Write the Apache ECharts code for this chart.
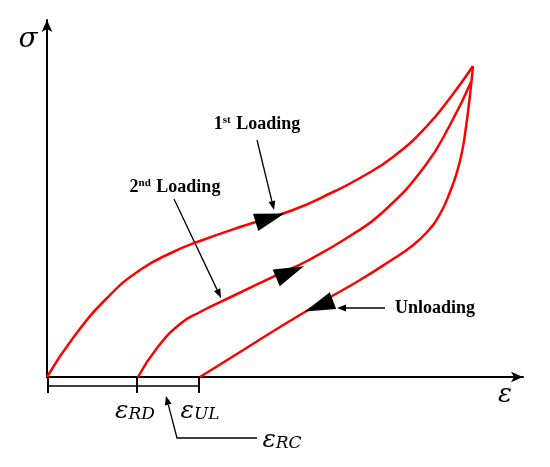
<!DOCTYPE html>
<html>
<head>
<meta charset="utf-8">
<script src="https://cdn.jsdelivr.net/npm/echarts@6/dist/echarts.min.js"></script>
<style>
html, body { margin: 0; padding: 0; background: #fff; }
#main { width: 550px; height: 467px; }
</style>
</head>
<body>
<div id="main"></div>
<script>
// 曲线数据 (应变, 应力) —— 任意单位
var load1X = [0, 26, 60, 93, 126, 153, 193, 246, 286, 313, 346, 380, 406, 426];
var load1Y = [0, 39, 79, 107, 125, 136, 150, 167, 185, 199, 220, 251, 283, 311];

var load2X = [91, 110, 133, 153, 186, 230, 260, 303, 336, 378, 404, 424];
var load2Y = [0, 29, 53, 65, 81, 102, 116, 141, 165, 211, 254, 295];

var unloadX = [153, 193, 233, 273, 313, 343, 365, 381, 393, 403, 410, 415, 419, 423, 426];
var unloadY = [0, 25, 50, 74, 97, 116, 131, 146, 163, 185, 205, 225, 250, 282, 311];

// 曲线上的方向箭头
var arrowX = [223, 243, 272];
var arrowY = [159, 105, 71];
var arrowRot = [-73, -67, 111];

function pairs(xs, ys) {
    var out = [];
    for (var i = 0; i < xs.length; i++) {
        out.push([xs[i], ys[i]]);
    }
    return out;
}

// 注释箭头: 线 + 小三角
function arrowLine(pts, head) {
    var n = pts.length;
    var x1 = pts[n - 2][0], y1 = pts[n - 2][1], x2 = pts[n - 1][0], y2 = pts[n - 1][1];
    var a = Math.atan2(y2 - y1, x2 - x1);
    var L = head || 9, W = 3.5;
    var bx = x2 - L * Math.cos(a), by = y2 - L * Math.sin(a);
    return [
        {
            type: 'polyline',
            shape: { points: pts.slice(0, n - 1).concat([[bx, by]]) },
            style: { stroke: '#000', lineWidth: 1.3, fill: null }
        },
        {
            type: 'polygon',
            shape: { points: [[x2, y2], [bx - W * Math.sin(a), by + W * Math.cos(a)], [bx + W * Math.sin(a), by - W * Math.cos(a)]] },
            style: { fill: '#000' }
        }
    ];
}

var serifBold = 'bold 18px "Liberation Serif", serif';
var mathFont = '"DejaVu Serif", serif';
var supStyle = { fontSize: 11, fontWeight: 'bold', fontFamily: 'Liberation Serif', verticalAlign: 'top', padding: [0, 1, 7, 0] };
var epsRich = {
    e: { font: 'italic 25px ' + mathFont, fill: '#000' },
    s: { font: 'italic 17px ' + mathFont, fill: '#000', padding: [7, 0, 0, 0] }
};

var graphics = [
    { type: 'text', style: { text: 'σ', x: 28, y: 40, align: 'center', verticalAlign: 'middle', font: 'italic 28px ' + mathFont, fill: '#000' } },
    { type: 'text', style: { text: 'ε', x: 505, y: 395, align: 'center', verticalAlign: 'middle', font: 'italic 26px ' + mathFont, fill: '#000' } },
    { type: 'text', style: { text: '1{sup|st} Loading', x: 257, y: 124, align: 'center', verticalAlign: 'middle', font: serifBold, fill: '#000', rich: { sup: supStyle } } },
    { type: 'text', style: { text: '2{sup|nd} Loading', x: 175, y: 187, align: 'center', verticalAlign: 'middle', font: serifBold, fill: '#000', rich: { sup: supStyle } } },
    { type: 'text', style: { text: 'Unloading', x: 435, y: 308, align: 'center', verticalAlign: 'middle', font: serifBold, fill: '#000' } },
    // 轴下方的区间标尺
    { type: 'line', shape: { x1: 47, y1: 386, x2: 200, y2: 386 }, style: { stroke: '#000', lineWidth: 1.3 } },
    { type: 'line', shape: { x1: 48, y1: 377, x2: 48, y2: 393 }, style: { stroke: '#000', lineWidth: 2 } },
    { type: 'line', shape: { x1: 137, y1: 377, x2: 137, y2: 393 }, style: { stroke: '#000', lineWidth: 2 } },
    { type: 'line', shape: { x1: 199, y1: 377, x2: 199, y2: 393 }, style: { stroke: '#000', lineWidth: 2 } },
    { type: 'text', style: { text: '{e|ε}{s|RD}', x: 135, y: 411, align: 'center', verticalAlign: 'middle', rich: epsRich } },
    { type: 'text', style: { text: '{e|ε}{s|UL}', x: 200, y: 411, align: 'center', verticalAlign: 'middle', rich: epsRich } },
    { type: 'text', style: { text: '{e|ε}{s|RC}', x: 282, y: 440, align: 'center', verticalAlign: 'middle', rich: epsRich } }
];
graphics = graphics
    .concat(arrowLine([[257, 140], [274, 210]]))
    .concat(arrowLine([[174, 199], [221, 298]]))
    .concat(arrowLine([[385, 308], [337, 308]]))
    .concat(arrowLine([[257, 438], [177, 438], [166, 396]]));

var chart = echarts.init(document.getElementById('main'));
var curveStyle = { color: '#ff0000', width: 2.5 };
chart.setOption({
    backgroundColor: '#fff',
    animation: false,
    grid: { left: 47, top: 20, right: 27, bottom: 90 },
    xAxis: {
        type: 'value', min: 0, max: 476,
        axisLine: { onZero: false, lineStyle: { color: '#000', width: 2 }, symbol: ['none', 'arrow'], symbolSize: [8, 12] },
        axisTick: { show: false }, axisLabel: { show: false }, splitLine: { show: false }
    },
    yAxis: {
        type: 'value', min: 0, max: 357,
        axisLine: { show: true, onZero: false, lineStyle: { color: '#000', width: 2 }, symbol: ['none', 'arrow'], symbolSize: [8, 12] },
        axisTick: { show: false }, axisLabel: { show: false }, splitLine: { show: false }
    },
    series: [
        { name: '1st Loading', type: 'line', data: pairs(load1X, load1Y), smooth: 0.5, showSymbol: false, lineStyle: curveStyle, itemStyle: { color: '#ff0000' } },
        { name: '2nd Loading', type: 'line', data: pairs(load2X, load2Y), smooth: 0.5, showSymbol: false, lineStyle: curveStyle, itemStyle: { color: '#ff0000' } },
        { name: 'Unloading', type: 'line', data: pairs(unloadX, unloadY), smooth: 0.5, showSymbol: false, lineStyle: curveStyle, itemStyle: { color: '#ff0000' } },
        {
            type: 'scatter', z: 5,
            data: arrowX.map(function (x, i) {
                return { value: [x, arrowY[i]], symbolRotate: arrowRot[i] };
            }),
            symbol: 'triangle', symbolSize: [18, 30],
            itemStyle: { color: '#000', opacity: 1 }
        }
    ],
    graphic: graphics
});
</script>
</body>
</html>
